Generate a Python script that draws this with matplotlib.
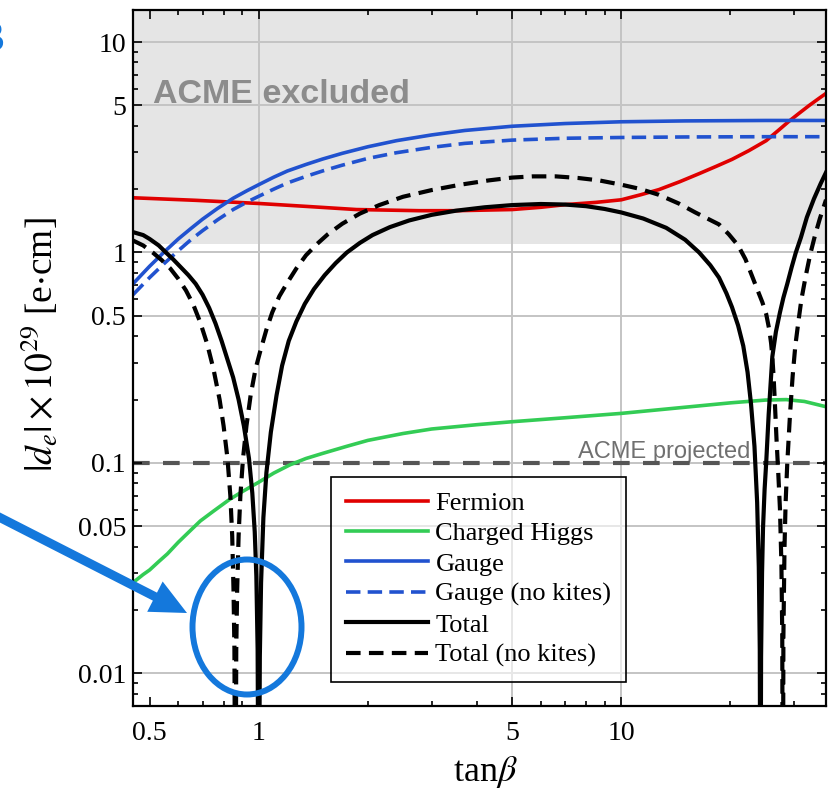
import numpy as np
import matplotlib
matplotlib.use('Agg')
import matplotlib.pyplot as plt
from matplotlib.patches import Ellipse, FancyArrow
from matplotlib.ticker import FixedLocator, FixedFormatter, NullFormatter

plt.rcParams['font.family'] = ['Liberation Serif', 'DejaVu Serif']
plt.rcParams['mathtext.fontset'] = 'stix'

# ---------------- data ----------------
fermion_x = [0.45, 0.67, 1.0, 1.4, 1.86, 2.77, 3.5, 5.0, 6.0, 7.05, 8.5, 10.0, 11.3, 12.7,
             14.5, 16.4, 18.3, 20.2, 22.5, 25.1, 27.0, 29.0, 31.0, 33.0, 35.0, 36.7]
fermion_y = [1.82, 1.77, 1.71, 1.65, 1.60, 1.58, 1.58, 1.60, 1.64, 1.69, 1.73, 1.78, 1.88, 1.99,
             2.17, 2.37, 2.57, 2.77, 3.05, 3.4, 3.78, 4.2, 4.6, 5.0, 5.38, 5.7]

higgs_x = [0.45, 0.48, 0.5, 0.53, 0.56, 0.6, 0.65, 0.69, 0.75, 0.83, 0.9, 1.0, 1.1, 1.22, 1.35,
           1.5, 1.75, 2.0, 2.5, 3.0, 4.0, 5.0, 7.0, 10.0, 15.0, 20.0, 25.0, 28.5, 32.0, 36.7]
higgs_y = [0.027, 0.0295, 0.031, 0.034, 0.037, 0.042, 0.048, 0.053, 0.059, 0.067, 0.073, 0.081,
           0.0895, 0.098, 0.105, 0.111, 0.12, 0.128, 0.138, 0.145, 0.152, 0.157, 0.164, 0.172,
           0.184, 0.193, 0.199, 0.2, 0.196, 0.185]

gauge_x = [0.45, 0.5, 0.55, 0.6, 0.65, 0.7, 0.77, 0.85, 0.93, 1.0, 1.1, 1.2, 1.35, 1.5, 1.7,
           2.0, 2.4, 3.0, 3.7, 5.0, 7.0, 10.0, 15.0, 25.0, 36.7]
gauge_y = [0.71, 0.86, 1.01, 1.16, 1.30, 1.44, 1.62, 1.81, 1.97, 2.1, 2.28, 2.44, 2.62, 2.78,
           2.96, 3.18, 3.4, 3.62, 3.8, 3.98, 4.1, 4.18, 4.22, 4.24, 4.24]

gauge_nk_x = [0.45, 0.5, 0.55, 0.6, 0.65, 0.7, 0.77, 0.85, 0.93, 1.0, 1.1, 1.2, 1.35, 1.5, 1.7,
              2.0, 2.4, 3.0, 3.7, 5.0, 7.0, 10.0, 15.0, 25.0, 36.7]
gauge_nk_y = [0.63, 0.76, 0.89, 1.02, 1.15, 1.27, 1.43, 1.6, 1.74, 1.85, 2.0, 2.14, 2.3, 2.44,
              2.6, 2.8, 2.98, 3.16, 3.3, 3.42, 3.49, 3.52, 3.54, 3.55, 3.55]

total_x = [0.45, 0.48, 0.5, 0.53, 0.558, 0.58, 0.606, 0.64, 0.67, 0.70, 0.73, 0.76, 0.79, 0.82,
           0.85, 0.88, 0.91, 0.94, 0.96, 0.975, 0.985, 0.993, 1.0,
           1.007, 1.015, 1.03, 1.05, 1.08, 1.12, 1.16, 1.21, 1.27, 1.34, 1.42, 1.52, 1.63,
           1.75, 1.9, 2.06, 2.3, 2.6, 3.0, 3.5, 4.2, 5.0, 6.0, 7.0, 8.0, 9.0, 10.0, 11.5,
           13.3, 15.0, 16.4, 17.6, 18.6, 19.5, 20.2, 21.0, 21.7, 22.3, 22.8, 23.3, 23.7,
           23.95, 24.1, 24.2,
           24.3, 24.45, 24.6, 24.85, 25.1, 25.5, 26.1, 26.7, 27.4, 28.0, 28.7, 29.5, 30.3,
           31.3, 32.5, 34.0, 35.5, 36.7]
total_y = [1.25, 1.21, 1.16, 1.08, 0.99, 0.93, 0.86, 0.78, 0.71, 0.63, 0.545, 0.46, 0.38, 0.31,
           0.255, 0.2, 0.15, 0.105, 0.072, 0.047, 0.029, 0.013, 0.001,
           0.012, 0.027, 0.055, 0.09, 0.14, 0.21, 0.29, 0.38, 0.47, 0.57, 0.67, 0.78, 0.89,
           1.0, 1.11, 1.21, 1.32, 1.42, 1.51, 1.58, 1.64, 1.68, 1.70, 1.69, 1.66, 1.61, 1.55,
           1.45, 1.31, 1.15, 1.0, 0.87, 0.76, 0.64, 0.55, 0.45, 0.36, 0.27, 0.19, 0.12, 0.065,
           0.032, 0.013, 0.001,
           0.012, 0.03, 0.049, 0.075, 0.1, 0.17, 0.32, 0.42, 0.52, 0.61, 0.71, 0.85, 1.0,
           1.18, 1.47, 1.8, 2.13, 2.4]

total_nk_x = [0.45, 0.48, 0.51, 0.54, 0.57, 0.60, 0.63, 0.66, 0.69, 0.72, 0.75, 0.78, 0.80,
              0.82, 0.835, 0.845, 0.852, 0.857, 0.862,
              0.867, 0.872, 0.88, 0.89, 0.905, 0.925, 0.95, 0.98, 1.01, 1.05, 1.09, 1.14, 1.2,
              1.27, 1.35, 1.45, 1.55, 1.7, 1.9, 2.15, 2.5, 3.0, 3.6, 4.3, 5.0, 5.7, 6.6, 7.6,
              8.7, 10.0, 11.2, 12.7, 14.4, 16.0, 18.6, 19.8, 21.0, 22.0, 22.9, 23.7, 24.5,
              25.1, 25.6, 25.9, 26.1, 26.3, 26.5, 26.8, 27.1, 27.4, 27.65, 27.8, 27.9,
              28.0, 28.2, 28.4, 28.7, 29.2, 29.7, 30.2, 30.8, 31.4, 32.3, 33.2, 34.2, 35.3, 36.7]
total_nk_y = [1.14, 1.08, 1.0, 0.92, 0.84, 0.75, 0.66, 0.565, 0.465, 0.37, 0.28, 0.2, 0.15,
              0.105, 0.07, 0.045, 0.025, 0.013, 0.001,
              0.013, 0.025, 0.045, 0.07, 0.105, 0.15, 0.21, 0.28, 0.34, 0.43, 0.52, 0.62, 0.72,
              0.84, 0.97, 1.1, 1.22, 1.37, 1.53, 1.68, 1.84, 1.98, 2.1, 2.2, 2.27, 2.3, 2.3, 2.26,
              2.2, 2.1, 2.01, 1.88, 1.71, 1.55, 1.36, 1.22, 1.08, 0.93, 0.78, 0.67, 0.58,
              0.51, 0.43, 0.37, 0.32, 0.26, 0.2, 0.13, 0.09, 0.06, 0.033, 0.015, 0.001,
              0.015, 0.04, 0.065, 0.1, 0.17, 0.26, 0.36, 0.47, 0.6, 0.78, 0.98, 1.2, 1.45, 1.78]

acme_excluded = 1.1
acme_projected = 0.1

x_major = [0.5, 1, 5, 10]
x_major_labels = ['0.5', '1', '5', '10']
x_minor = [0.6, 0.7, 0.8, 0.9, 2, 3, 4, 6, 7, 8, 9, 20, 30]
y_major = [0.01, 0.05, 0.1, 0.5, 1, 5, 10]
y_major_labels = ['0.01', '0.05', '0.1', '0.5', '1', '5', '10']
y_minor = [0.008, 0.009, 0.02, 0.03, 0.04, 0.06, 0.07, 0.08, 0.09,
           0.2, 0.3, 0.4, 0.6, 0.7, 0.8, 0.9, 2, 3, 4, 6, 7, 8, 9]
x_grid = [1, 5, 10]
y_grid = [0.01, 0.05, 0.1, 0.5, 1, 5, 10]

labels = ['Fermion', 'Charged Higgs', 'Gauge', 'Gauge (no kites)', 'Total', 'Total (no kites)']

# ---------------- styles ----------------
RED = '#e00000'
GREEN = '#33cc55'
BLUE = '#2152cf'
ANNOT = '#1478dc'

fig = plt.figure(figsize=(8.31, 7.98), dpi=100)
ax = fig.add_axes([133/831, 1-706/798, (826-133)/831, (706-10)/798])
ax.set_xscale('log')
ax.set_yscale('log')
ax.set_xlim(0.45, 36.7)
ax.set_ylim(0.007, 14.2)

ax.axhspan(acme_excluded, 100, color='#e5e5e5', zorder=0.2, lw=0)
for v in x_grid:
    ax.axvline(v, color='#c4c4c4', lw=1.4, zorder=0.5)
for v in y_grid:
    ax.axhline(v, color='#c4c4c4', lw=1.4, zorder=0.5)

ax.axhline(acme_projected, color='#555555', lw=3.0, dashes=(4, 3.2), zorder=1.5)

ax.plot(fermion_x, fermion_y, color=RED, lw=2.6, label=labels[0], zorder=2)
ax.plot(higgs_x, higgs_y, color=GREEN, lw=2.6, label=labels[1], zorder=2)
ax.plot(gauge_x, gauge_y, color=BLUE, lw=2.6, label=labels[2], zorder=2)
ax.plot(gauge_nk_x, gauge_nk_y, color=BLUE, lw=2.6, dashes=(4, 2), label=labels[3], zorder=2)
ax.plot(total_x, total_y, color='black', lw=3.0, label=labels[4], zorder=3)
ax.plot(total_nk_x, total_nk_y, color='black', lw=3.0, dashes=(3.5, 2), label=labels[5], zorder=3)

ax.text(0.511, 5.16, 'ACME excluded', family='Liberation Sans', fontweight='bold',
        fontsize=24.5, color='#8c8c8c', ha='left', va='baseline', zorder=1)
ax.text(22.7, 0.105, 'ACME projected', family='Liberation Sans', fontsize=17,
        color='#707070', ha='right', va='baseline', zorder=1)

ax.xaxis.set_major_locator(FixedLocator(x_major))
ax.xaxis.set_major_formatter(FixedFormatter(x_major_labels))
ax.xaxis.set_minor_locator(FixedLocator(x_minor))
ax.xaxis.set_minor_formatter(NullFormatter())
ax.yaxis.set_major_locator(FixedLocator(y_major))
ax.yaxis.set_major_formatter(FixedFormatter(y_major_labels))
ax.yaxis.set_minor_locator(FixedLocator(y_minor))
ax.yaxis.set_minor_formatter(NullFormatter())
ax.tick_params(which='both', direction='in', top=True, right=True, width=1.2, colors='black')
ax.tick_params(which='major', length=6.5, labelsize=20)
ax.tick_params(axis='y', which='major', pad=5)
ax.tick_params(axis='x', which='major', pad=11)
ax.tick_params(which='minor', length=3.5)
for s in ax.spines.values():
    s.set_linewidth(1.6)
    s.set_zorder(5)

leg = ax.legend(loc='lower left', bbox_to_anchor=(0.286, 0.0345), borderaxespad=0,
                fontsize=19, handlelength=3.1, handletextpad=0.3, labelspacing=0.26,
                borderpad=0.55, frameon=True, fancybox=False, framealpha=1,
                edgecolor='black')
frame = leg.get_frame()
frame.set_alpha(None)
frame.set_facecolor((1, 1, 1, 0.6))
frame.set_edgecolor((0, 0, 0, 1))
frame.set_linewidth(1.2)
leg.set_zorder(6)

fig.text(485/831, 1-772/798, r'tan$\beta$', fontsize=26, ha='center', va='center')
fig.text(40/831, 1-345/798, r'$|d_e|\times10^{29}$ [e$\cdot$cm]', fontsize=27,
         rotation=90, ha='center', va='center')

# blue annotation: arrow + ellipse (figure inches)
arr = FancyArrow(-0.05, 2.83, 1.92, -0.98, width=0.09, head_width=0.34, head_length=0.36,
                 length_includes_head=True, color=ANNOT, transform=fig.dpi_scale_trans,
                 zorder=10, lw=0)
fig.add_artist(arr)
ell = Ellipse((2.47, 1.71), 1.09, 1.35, fill=False, edgecolor=ANNOT, lw=4.3,
              transform=fig.dpi_scale_trans, zorder=10)
fig.add_artist(ell)
fig.text(4/831, 1-40/798, 'B', ha='right', va='center', color=ANNOT, fontsize=30,
         fontweight='bold', family='Liberation Sans')

fig.savefig('out.png', dpi=100)
